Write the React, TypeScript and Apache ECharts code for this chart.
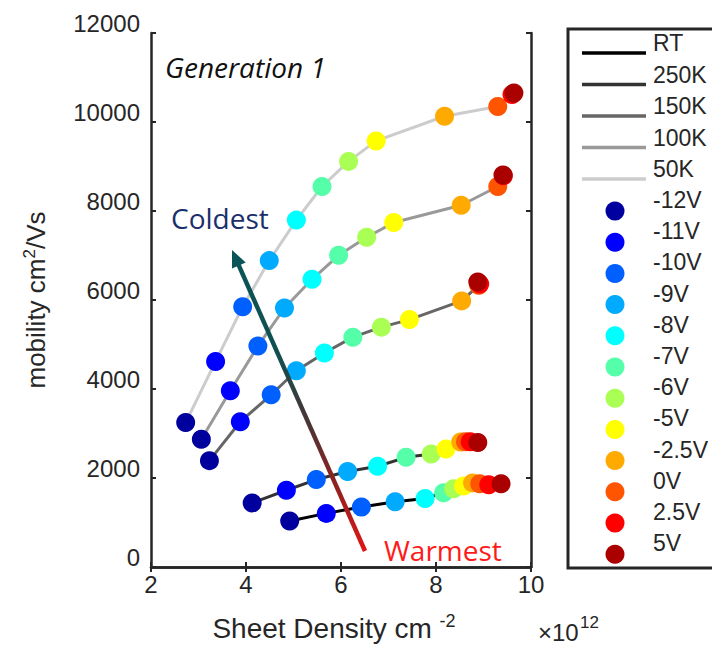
import React, { useEffect, useRef } from "react";
import * as echarts from "echarts";

// Temperatures (line series) and gate voltages (marker colours)
const temperatures = ["RT", "250K", "150K", "100K", "50K"];
const temperatureColors = ["#000000", "#333333", "#666666", "#999999", "#cccccc"];
const voltages = ["-12V", "-11V", "-10V", "-9V", "-8V", "-7V", "-6V", "-5V", "-2.5V", "0V", "2.5V", "5V"];
const voltageColors = [
  "#00009f", "#0000ff", "#0060ff", "#00aaff", "#00ffff", "#55ffaa",
  "#aaff55", "#ffff00", "#ffaa00", "#ff5500", "#ff0000", "#aa0000",
];

// Sheet density (x10^12 cm^-2), one value per voltage, per temperature
const densityRT = [4.92, 5.69, 6.43, 7.14, 7.77, 8.16, 8.37, 8.58, 8.77, 8.92, 9.11, 9.37];
const density250K = [4.13, 4.85, 5.48, 6.14, 6.77, 7.37, 7.9, 8.21, 8.52, 8.62, 8.72, 8.88];
const density150K = [3.23, 3.88, 4.53, 5.06, 5.65, 6.25, 6.85, 7.44, 8.54, 8.9, 8.92, 8.88];
const density100K = [3.06, 3.67, 4.25, 4.81, 5.39, 5.95, 6.54, 7.11, 8.53, 9.3, 9.42, 9.41];
const density50K = [2.73, 3.36, 3.93, 4.49, 5.06, 5.6, 6.16, 6.74, 8.18, 9.3, 9.6, 9.64];

// Mobility (cm^2/Vs)
const mobilityRT = [1035, 1205, 1350, 1465, 1540, 1670, 1760, 1820, 1890, 1870, 1850, 1870];
const mobility250K = [1440, 1725, 1965, 2145, 2265, 2465, 2540, 2650, 2810, 2815, 2815, 2800];
const mobility150K = [2390, 3265, 3870, 4410, 4810, 5165, 5390, 5560, 5980, 6330, 6360, 6405];
const mobility100K = [2870, 3960, 4965, 5820, 6465, 7005, 7410, 7740, 8130, 8550, 8790, 8810];
const mobility50K = [3245, 4620, 5850, 6885, 7795, 8550, 9115, 9575, 10130, 10350, 10620, 10650];

const xTicks = [2, 4, 6, 8, 10];
const yTicks = [0, 2000, 4000, 6000, 8000, 10000, 12000];

const densities = [densityRT, density250K, density150K, density100K, density50K];
const mobilities = [mobilityRT, mobility250K, mobility150K, mobility100K, mobility50K];

const FONT = "Liberation Sans, Arial, sans-serif";
const ANNOT_FONT = "Open Sans, Noto Sans, sans-serif";
const AXIS_COLOR = "#262626";

export default function App() {
  const ref = useRef<HTMLDivElement>(null);

  useEffect(() => {
    if (!ref.current) return;
    const chart = echarts.init(ref.current, undefined, { renderer: "svg" });

    const lineSeries = temperatures.map((t, ti) => ({
      name: t,
      type: "line",
      data: densities[ti].map((x, i) => [x, mobilities[ti][i]]),
      symbol: "none",
      lineStyle: { color: temperatureColors[ti], width: 3 },
      z: 2,
      silent: true,
    }));

    const markerSeries = voltages.map((v, vi) => ({
      name: v,
      type: "scatter",
      data: temperatures.map((_, ti) => [densities[ti][vi], mobilities[ti][vi]]),
      symbol: "circle",
      symbolSize: 19,
      itemStyle: { color: voltageColors[vi], opacity: 1 },
      z: 3 + vi,
      silent: true,
    }));

    // legend graphics
    const legendEls: any[] = [];
    legendEls.push({
      type: "rect",
      shape: { x: 568, y: 29, width: 200, height: 539 },
      style: { fill: "#fff", stroke: AXIS_COLOR, lineWidth: 3 },
      z: 0,
    });
    temperatures.forEach((t, j) => {
      const y = 53 + 31.5 * j;
      legendEls.push({
        type: "line",
        shape: { x1: 582, y1: y, x2: 646, y2: y },
        style: { stroke: temperatureColors[j], lineWidth: 3.5 },
        z: 1,
      });
      legendEls.push({
        type: "text",
        style: {
          text: t, x: 653, y: y - 10, fill: AXIS_COLOR,
          font: `23px ${FONT}`, verticalAlign: "middle", align: "left",
        },
        z: 1,
      });
    });
    voltages.forEach((v, i) => {
      const y = 211 + 31.2 * i;
      legendEls.push({
        type: "circle",
        shape: { cx: 615, cy: y, r: 9.5 },
        style: { fill: voltageColors[i] },
        z: 1,
      });
      legendEls.push({
        type: "text",
        style: {
          text: v, x: 653, y: y - 11, fill: AXIS_COLOR,
          font: `23px ${FONT}`, verticalAlign: "middle", align: "left",
        },
        z: 1,
      });
    });

    // arrow annotation
    const tip = [232, 250];
    const tail = [365, 551];
    const dx = tip[0] - tail[0];
    const dy = tip[1] - tail[1];
    const len = Math.sqrt(dx * dx + dy * dy);
    const ux = dx / len, uy = dy / len;
    const px = -uy, py = ux;
    const headLen = 17, headHalf = 7.5;
    const bx = tip[0] - ux * headLen, by = tip[1] - uy * headLen;

    const option: any = {
      animation: false,
      backgroundColor: "#ffffff",
      grid: { left: 151, right: 181, top: 33, bottom: 76.5, containLabel: false },
      xAxis: [
        {
          type: "value", min: 2, max: 10, interval: 2, position: "bottom",
          axisLine: { show: true, lineStyle: { color: AXIS_COLOR, width: 2.5 } },
          axisTick: { show: true, inside: true, length: 5, lineStyle: { color: AXIS_COLOR, width: 2 } },
          axisLabel: {
            show: true, color: AXIS_COLOR, fontSize: 24, fontFamily: FONT, margin: 5,
            formatter: (val: number) => (xTicks.includes(val) ? String(val) : ""),
          },
          splitLine: { show: false },
          name: "Sheet Density cm {sup|-2}",
          nameLocation: "middle",
          nameGap: 45,
          nameTextStyle: {
            color: AXIS_COLOR, fontSize: 28, fontFamily: FONT, padding: [0, 14, 0, 0],
            lineHeight: 32, verticalAlign: "top",
            rich: { sup: { fontSize: 18, fontFamily: FONT, color: AXIS_COLOR, verticalAlign: "top", lineHeight: 32 } },
          },
        },
        {
          type: "value", min: 2, max: 10, interval: 2, position: "top",
          axisLine: { show: true, lineStyle: { color: AXIS_COLOR, width: 2.5 } },
          axisTick: { show: true, inside: true, length: 5, lineStyle: { color: AXIS_COLOR, width: 2 } },
          axisLabel: { show: false },
          splitLine: { show: false },
        },
      ],
      yAxis: [
        {
          type: "value", min: 0, max: 12000, interval: 2000, position: "left",
          axisLine: { show: true, lineStyle: { color: AXIS_COLOR, width: 2.5 } },
          axisTick: { show: true, inside: true, length: 5, lineStyle: { color: AXIS_COLOR, width: 2 } },
          axisLabel: {
            show: true, color: AXIS_COLOR, fontSize: 24, fontFamily: FONT, margin: 11,
            verticalAlign: "bottom", lineHeight: 20,
            formatter: (val: number) => (yTicks.includes(val) ? String(val) : ""),
          },
          splitLine: { show: false },
          name: "mobility cm{sup|2}/Vs",
          nameLocation: "middle",
          nameRotate: 90,
          nameGap: 100,
          nameTextStyle: {
            color: AXIS_COLOR, fontSize: 26, fontFamily: FONT, lineHeight: 30,
            rich: { sup: { fontSize: 17, fontFamily: FONT, color: AXIS_COLOR, verticalAlign: "top", lineHeight: 30 } },
          },
        },
        {
          type: "value", min: 0, max: 12000, interval: 2000, position: "right",
          axisLine: { show: true, lineStyle: { color: AXIS_COLOR, width: 2.5 } },
          axisTick: { show: true, inside: true, length: 5, lineStyle: { color: AXIS_COLOR, width: 2 } },
          axisLabel: { show: false },
          splitLine: { show: false },
        },
      ],
      series: [...lineSeries, ...markerSeries],
      graphic: [
        ...legendEls,
        {
          type: "text",
          style: {
            text: "×10", x: 538, y: 632, fill: AXIS_COLOR,
            font: `24px ${FONT}`, verticalAlign: "middle", align: "left",
          },
        },
        {
          type: "text",
          style: {
            text: "12", x: 580, y: 622, fill: AXIS_COLOR,
            font: `17px ${FONT}`, verticalAlign: "middle", align: "left",
          },
        },
        {
          type: "text",
          style: {
            text: "Generation 1", x: 165, y: 67, fill: "#111111",
            font: `italic 28px ${ANNOT_FONT}`, verticalAlign: "middle", align: "left",
          },
          z: 20,
        },
        {
          type: "text",
          style: {
            text: "Coldest", x: 171, y: 218, fill: "#1b2f6b",
            font: `28px ${ANNOT_FONT}`, verticalAlign: "middle", align: "left",
          },
          z: 20,
        },
        {
          type: "text",
          style: {
            text: "Warmest", x: 384, y: 550, fill: "#ff1a1a",
            font: `28px ${ANNOT_FONT}`, verticalAlign: "middle", align: "left",
          },
          z: 20,
        },
        {
          type: "line",
          shape: { x1: tail[0], y1: tail[1], x2: bx + ux, y2: by + uy },
          style: {
            lineWidth: 4.5,
            stroke: new echarts.graphic.LinearGradient(0, 0, 0, 1, [
              { offset: 0, color: "#0b5457" },
              { offset: 0.3, color: "#0f5052" },
              { offset: 0.55, color: "#4a3535" },
              { offset: 0.75, color: "#8a2222" },
              { offset: 1, color: "#e01515" },
            ]),
          },
          z: 20,
        },
        {
          type: "polygon",
          shape: {
            points: [
              [tip[0], tip[1]],
              [bx + px * headHalf, by + py * headHalf],
              [bx - px * headHalf, by - py * headHalf],
            ],
          },
          style: { fill: "#0b5457" },
          z: 20,
        },
      ],
    };

    chart.setOption(option);
    return () => chart.dispose();
  }, []);

  return (
    <div
      ref={ref}
      style={{ position: "fixed", left: 0, top: 0, width: 712, height: 649, background: "#fff" }}
    />
  );
}
